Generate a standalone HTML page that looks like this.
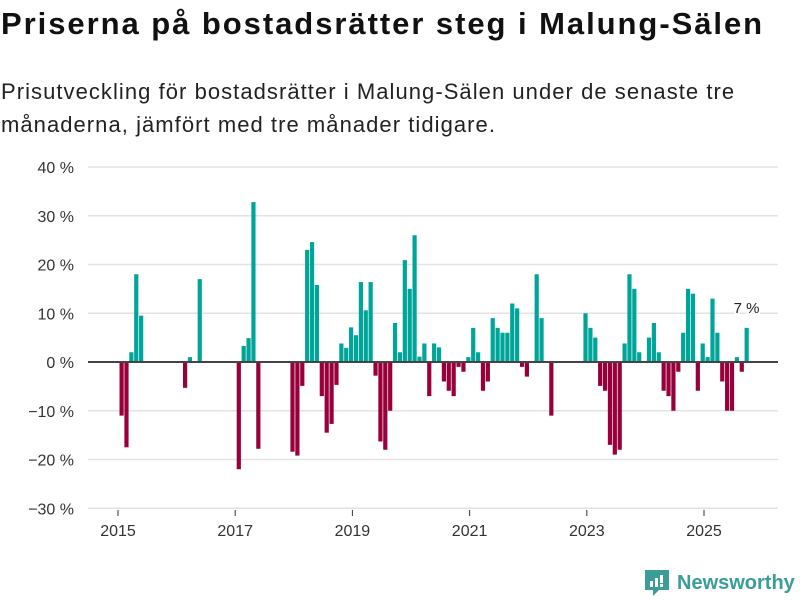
<!DOCTYPE html>
<html><head><meta charset="utf-8">
<style>
body{margin:0;width:800px;height:600px;background:#fff;font-family:"Liberation Sans","DejaVu Sans",sans-serif;overflow:hidden;position:relative}
#title{position:absolute;left:1px;top:6px;font-size:31px;font-weight:bold;color:#111;margin:0;letter-spacing:1.95px;white-space:nowrap}
#sub{position:absolute;left:1px;top:75px;font-size:22px;line-height:33px;color:#222;width:750px;letter-spacing:1.05px}
svg{position:absolute;left:0;top:0}
</style></head><body>
<h1 id="title">Priserna på bostadsrätter steg i Malung-Sälen</h1>
<div id="sub">Prisutveckling för bostadsrätter i Malung-Sälen under de senaste tre månaderna, jämfört med tre månader tidigare.</div>
<svg id="chart" width="800" height="600"></svg>
<script>
const yTicks=[40,30,20,10,0,-10,-20,-30];
const xYears=[2015,2017,2019,2021,2023,2025];
const values=[
-11,-17.5,2,18,9.5,null,null,null,null,null,null,null,
null,-5.3,1,null,17,null,null,null,null,null,null,null,
-22,3.3,4.9,32.8,-17.8,null,null,null,null,null,null,-18.4,
-19.2,-4.9,23,24.6,15.8,-7,-14.5,-12.7,-4.7,3.8,2.9,7.1,
5.5,16.4,10.6,16.4,-2.8,-16.3,-18,-10,8,2,20.9,15,
26,1.1,3.8,-7,3.8,3,-4,-5.9,-7,-1,-2,1,
7,2,-5.9,-4,9,7,6,6,12,11,-1,-3,
null,18,9,null,-11,null,null,null,null,null,null,10,
7,5,-4.9,-5.9,-17,-19,-18,3.8,18,15,2,null,
5,8,2,-5.9,-7,-10,-2,6,15,14,-5.9,3.8,
1,13,6,-4,-10,-10,1,-2,7];
const startYear=2015;
const NS='http://www.w3.org/2000/svg';
const svg=document.getElementById('chart');
function y(v){return 362-v*4.875;}
function x(monthIndex){return 118+monthIndex*(58.6/12);}
function mk(t,a,txt){const e=document.createElementNS(NS,t);for(const k in a)e.setAttribute(k,a[k]);if(txt!==undefined)e.textContent=txt;svg.appendChild(e);return e;}
yTicks.forEach(t=>{
  const g=mk('line',{x1:88,x2:778,y1:y(t),y2:y(t),stroke:'#e2e2e2','stroke-width':1.5});
  
  
  const l=mk('text',{x:74,y:y(t)+6,'text-anchor':'end','font-size':16,fill:'#333'},(t<0?'\u2212'+(-t):t)+' %');
  
  
});
xYears.forEach(yr=>{
  const xx=x((yr-startYear)*12);
  const tk=mk('line',{x1:xx,x2:xx,y1:510,y2:516,stroke:'#333','stroke-width':1});
  
  
  const l=mk('text',{x:xx,y:536,'text-anchor':'middle','font-size':16,fill:'#333'},yr);
  
  
});
values.forEach((v,i)=>{
  if(v===null)return;
  const x0=x(i)+1.5, w=4.2;
  const top=v>=0?y(v):y(0), h=Math.abs(y(v)-y(0));
  const r=mk('rect',{x:x0,y:top,width:w,height:h,fill:v>=0?'#00a59a':'#99003b'});
  
  
});
const zl=mk('line',{x1:88,x2:778,y1:y(0),y2:y(0),stroke:'#444','stroke-width':2});


const li=values.length-1;
const lab=mk('text',{x:x(li)+3.5,y:y(values[li])-15,'text-anchor':'middle','font-size':15,fill:'#222',stroke:'#fff','stroke-width':4,'paint-order':'stroke'},values[li]+' %');


</script>
<div style="position:absolute;left:645px;top:570px;display:flex;align-items:center">
<svg width="24" height="26" viewBox="0 0 24 26" style="position:static"><path d="M0 0H24V20H14L8 26V20H0Z" fill="#3a9d96"/><rect x="5" y="11" width="3" height="6" fill="#fff"/><rect x="10" y="8" width="3" height="9" fill="#fff"/><rect x="15" y="5" width="3" height="8" fill="#fff"/><rect x="15" y="14" width="3" height="3" fill="#fff"/></svg>
<span style="margin-left:8px;font-size:20px;color:#3a9d96;font-weight:bold;white-space:nowrap">Newsworthy</span></div>
</body></html>
